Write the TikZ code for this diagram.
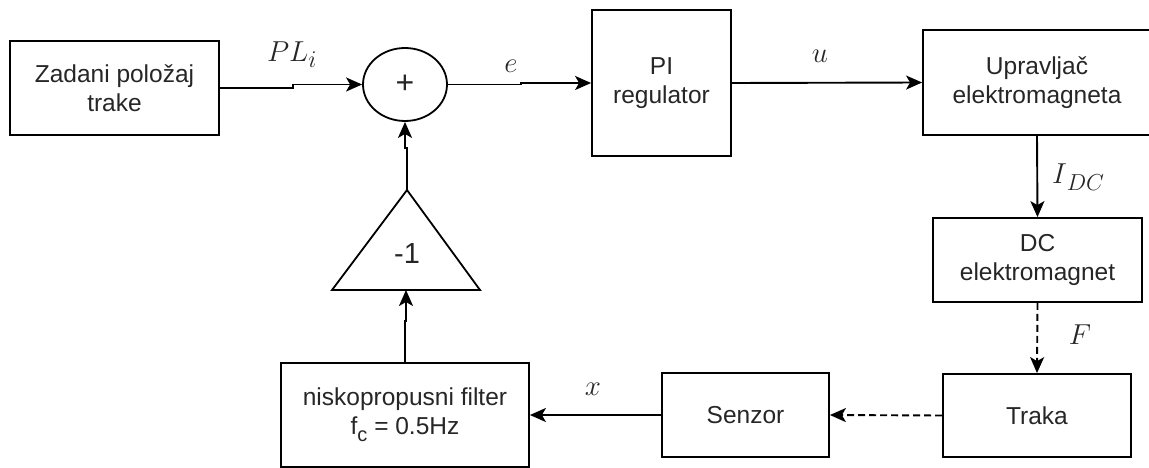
\documentclass[tikz,border=0pt]{standalone}
\usepackage{fontspec}
\setmainfont{Liberation Sans}
\usetikzlibrary{arrows.meta,shapes.geometric}
\tikzset{
  blk/.style={draw, line width=1.8pt, rectangle, align=center, inner sep=0pt,
    font=\fontsize{24.5}{29}\selectfont, text=black!85},
  arr/.style={line width=1.9pt, -{Stealth[length=16pt,width=14pt,inset=4pt]}},
  darr/.style={arr, dash pattern=on 7pt off 4pt},
  lbl/.style={inner sep=0pt, font=\fontsize{24.88}{25}\selectfont, text=black!85},
}
\newcommand{\mylbl}[1]{\scalebox{1.16}{#1}}
\begin{document}
\begin{tikzpicture}[x=1pt,y=-1pt]
\useasboundingbox (0,0) rectangle (1149,468);
\node[blk, minimum width=209pt, minimum height=94pt] (zad) at (114.5,88) {Zadani položaj\\trake};
\node[draw, line width=1.8pt, ellipse, minimum width=84pt, minimum height=73pt, inner sep=0pt,
  font=\fontsize{32}{32}\selectfont, text=black!85] (sum) at (405,84.5) {+};
\node[blk, minimum width=139pt, minimum height=146pt] (pi) at (661.5,83) {PI\\regulator};
\node[blk, minimum width=228pt, minimum height=105pt] (upr) at (1037,82.5) {Upravljač\\elektromagneta};
\node[blk, minimum width=209pt, minimum height=84pt] (dc) at (1037.5,260) {DC\\elektromagnet};
\node[blk, minimum width=188pt, minimum height=83pt] (traka) at (1037,415.5) {Traka};
\node[blk, minimum width=167pt, minimum height=84pt] (senzor) at (745.5,415) {Senzor};
\node[blk, minimum width=248pt, minimum height=104pt] (filt) at (405,415)
  {niskopropusni filter\\f\raisebox{-0.28em}{\fontsize{20}{20}\selectfont c} = 0.5Hz};
% gain triangle
\draw[line width=1.8pt, line join=miter] (332,290) -- (407,190) -- (480,290) -- cycle;
\coordinate (triTop) at (407,190);
\coordinate (triBot) at (406,290);
\node[inner sep=0pt, font=\fontsize{29}{29}\selectfont, text=black!85] (gain) at (407,254) {-1};
% connectors
\draw[arr] (zad.east) -- ++(73,0) |- (sum.west);
\draw[arr] (sum.east) -- ++(73,0) |- (pi.west);
\draw[arr] (pi.east) -- (upr.west);
\draw[arr] (upr.south) -- (dc.north);
\draw[darr] (dc.south) -- (traka.north);
\draw[darr] (traka.west) -- (senzor.east);
\draw[arr] (senzor.west) -- (filt.east);
\draw[arr] (filt.north) -- ++(0,-41) -| (triBot);
\draw[arr] (triTop) -- ++(0,-42) -| (sum.south);
% labels
\node[lbl] (lPL) at (292,55) {\mylbl{$PL_i$}};
\node[lbl] (le) at (511,66) {\mylbl{$e$}};
\node[lbl] (lu) at (820,56) {\mylbl{$u$}};
\node[lbl] (lI) at (1078,177) {\mylbl{$I$\raisebox{-6pt}{\scalebox{0.8}{$DC$}}}};
\node[lbl] (lF) at (1080,335) {\mylbl{$F$}};
\node[lbl] (lx) at (593,389) {\mylbl{$x$}};
\end{tikzpicture}
\end{document}
